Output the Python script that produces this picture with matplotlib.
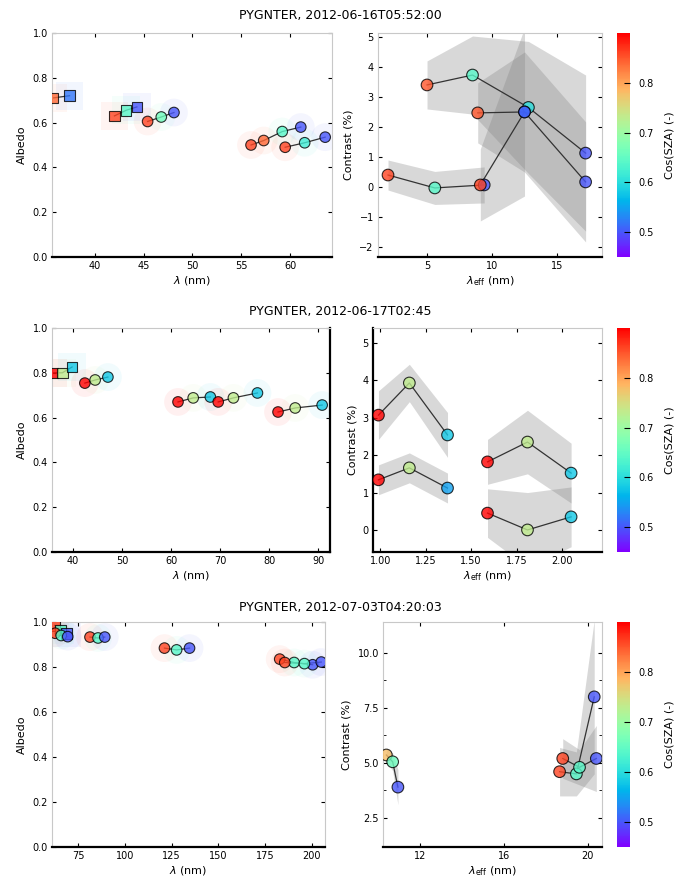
import matplotlib
matplotlib.use('Agg')
import matplotlib.pyplot as plt
from matplotlib import colors as mcolors, cm
import numpy as np

plt.rcParams['font.family'] = ['DejaVu Sans']

W, H = 681, 885
fig = plt.figure(figsize=(6.81, 8.85), dpi=100)

def box(x0, y0, x1, y1):
    return [x0 / W, 1 - y1 / H, (x1 - x0) / W, (y1 - y0) / H]

titles = ["PYGNTER, 2012-06-16T05:52:00", "PYGNTER, 2012-06-17T02:45", "PYGNTER, 2012-07-03T04:20:03"]

# ---------------- data ----------------
# Row 1, left (albedo)
r1L_x = [[35.7, 37.4], [42.0, 43.2, 44.3], [45.4, 46.8, 48.1], [56.0, 57.3, 59.2, 61.1], [59.5, 61.5, 63.6]]
r1L_y = [[0.71, 0.72], [0.63, 0.655, 0.67], [0.605, 0.625, 0.645], [0.50, 0.52, 0.56, 0.58], [0.49, 0.51, 0.535]]
r1L_c = [[0.84, 0.52], [0.86, 0.64, 0.50], [0.86, 0.66, 0.50], [0.86, 0.84, 0.64, 0.50], [0.86, 0.62, 0.50]]
r1L_xticks = [40, 45, 50, 55, 60]

# Row 1, right
r1R_x = [[5.0, 8.5, 12.8, 17.2], [8.9, 12.5, 17.2], [2.0, 5.6, 9.4], [9.1, 12.5]]
r1R_y = [[3.4, 3.73, 2.65, 1.13], [2.47, 2.5, 0.17], [0.4, -0.03, 0.07], [0.07, 2.5]]
r1R_e = [[0.8, 1.3, 2.2, 2.6], [1.0, 2.0, 2.0], [0.5, 0.55, 0.6], [1.2, 2.8]]
r1R_c = [[0.85, 0.64, 0.60, 0.50], [0.85, 0.55, 0.50], [0.86, 0.64, 0.50], [0.86, 0.50]]
r1R_xticks = [5, 10, 15]
r1R_yticks = [-2, -1, 0, 1, 2, 3, 4, 5]

# Row 2, left
r2L_x = [[35.9, 37.8, 39.8], [42.4, 44.5, 47.1], [61.4, 64.5, 68.0], [69.6, 72.7, 77.6], [81.8, 85.3, 90.8]]
r2L_y = [[0.80, 0.80, 0.826], [0.754, 0.768, 0.781], [0.67, 0.688, 0.692], [0.67, 0.688, 0.71], [0.625, 0.643, 0.656]]
r2L_c = [[0.90, 0.73, 0.58]] * 5
r2L_xticks = [40, 50, 60, 70, 80, 90]

# Row 2, right
r2R_x = [[0.99, 1.16, 1.37], [0.99, 1.16, 1.37], [1.59, 1.81, 2.05], [1.59, 1.81, 2.05]]
r2R_y = [[3.07, 3.93, 2.54], [1.34, 1.66, 1.12], [1.82, 2.35, 1.52], [0.45, 0.0, 0.35]]
r2R_e = [[0.65, 0.5, 0.6], [0.4, 0.4, 0.4], [0.6, 0.85, 0.8], [0.65, 1.0, 0.8]]
r2R_c = [[0.90, 0.73, 0.58], [0.90, 0.73, 0.55], [0.90, 0.73, 0.58], [0.90, 0.73, 0.58]]
r2R_xticks = [1.00, 1.25, 1.50, 1.75, 2.00]
r2R_yticks = [0, 1, 2, 3, 4, 5]

# Row 3, left
r3L_x = [[62.5, 65.5, 69.0], [62.8, 66.0, 69.5], [81.4, 85.7, 89.3], [121.2, 127.7, 134.6], [182.8, 190.5, 200.4], [185.5, 196.0, 205.0]]
r3L_y = [[0.985, 0.965, 0.95], [0.95, 0.94, 0.935], [0.933, 0.929, 0.933], [0.884, 0.876, 0.884], [0.835, 0.82, 0.81], [0.82, 0.815, 0.822]]
r3L_c = [[0.86, 0.64, 0.50]] * 6
r3L_xticks = [75, 100, 125, 150, 175, 200]

# Row 3, right
r3R_x = [[10.4, 10.7, 10.95], [18.65, 19.45, 20.3], [18.8, 19.6, 20.4]]
r3R_y = [[5.36, 5.05, 3.9], [4.6, 4.5, 8.0], [5.2, 4.8, 5.2]]
r3R_e = [[0.3, 0.4, 0.8], [1.1, 1.0, 3.5], [0.9, 0.8, 1.5]]
r3R_c = [[0.78, 0.66, 0.50], [0.86, 0.64, 0.50], [0.86, 0.64, 0.50]]
r3R_xticks = [12, 16, 20]
r3R_yticks = [2.5, 5.0, 7.5, 10.0]

albedo_ticks = [0.0, 0.2, 0.4, 0.6, 0.8, 1.0]
cbar_ticks = [0.5, 0.6, 0.7, 0.8]

# ---------------- style ----------------
cmap = plt.get_cmap('rainbow')
norm = mcolors.Normalize(vmin=0.45, vmax=0.9)
TICK_FS = 7
LAB_FS = 8

def style_axes(ax, dark=('bottom',)):
    for s in ['top', 'right', 'left', 'bottom']:
        ax.spines[s].set_color('#c8c8c8')
        ax.spines[s].set_linewidth(0.8)
    for s in dark:
        ax.spines[s].set_color('black')
        ax.spines[s].set_linewidth(1.6)
    ax.tick_params(direction='in', top=True, right=True, labelsize=TICK_FS,
                   length=3, width=0.8, pad=3)
    ax.tick_params(which='minor', direction='in', top=True, right=True, length=2)

def draw_left(ax, xs, ys, cs, markers):
    for x, y, c, m in zip(xs, ys, cs, markers):
        ax.plot(x, y, color='#333333', lw=0.9, zorder=2)
        ax.scatter(x, y, c=c, cmap=cmap, norm=norm, marker=m, s=400,
                   linewidths=0, zorder=1, alpha=0.06)
        ax.scatter(x, y, c=c, cmap=cmap, norm=norm, marker=m, s=58,
                   edgecolors='black', linewidths=0.8, zorder=3, alpha=0.8)

def draw_right(ax, xs, ys, es, cs, markers):
    for x, y, e, c, m in zip(xs, ys, es, cs, markers):
        x = np.array(x); y = np.array(y); e = np.array(e)
        ax.fill_between(x, y - e, y + e, color='gray', alpha=0.3, lw=0, zorder=1)
        ax.plot(x, y, color='#333333', lw=0.9, zorder=2)
        ax.scatter(x, y, c=c, cmap=cmap, norm=norm, marker=m, s=70,
                   edgecolors='black', linewidths=0.8, zorder=3, alpha=0.8)

def add_cbar(pos):
    cax = fig.add_axes(pos)
    cb = fig.colorbar(cm.ScalarMappable(norm=norm, cmap=cmap), cax=cax, ticks=cbar_ticks)
    cb.outline.set_visible(False)
    cax.tick_params(direction='in', labelsize=TICK_FS, length=4, width=0.8, pad=6)
    cb.set_label('Cos(SZA) (-)', fontsize=LAB_FS, labelpad=8)
    return cb

rows_y = [(33, 257), (328, 552), (622, 847)]
title_y = [15, 312, 608]

# ---------------- Row 1 ----------------
y0, y1 = rows_y[0]
axL = fig.add_axes(box(52, y0, 332, y1))
draw_left(axL, r1L_x, r1L_y, r1L_c, ['s', 's', 'o', 'o', 'o'])
axL.set_xlim(35.6, 64.3); axL.set_ylim(0, 1.0)
axL.set_xticks(r1L_xticks); axL.set_yticks(albedo_ticks)
style_axes(axL)
axL.set_xlabel(r'$\lambda$ (nm)', fontsize=LAB_FS, labelpad=2)
axL.set_ylabel('Albedo', fontsize=LAB_FS)

axR = fig.add_axes(box(378, y0, 602, y1))
draw_right(axR, r1R_x, r1R_y, r1R_e, r1R_c, ['o', 'o', 'o', 'o'])
axR.set_xlim(1.23, 18.46); axR.set_ylim(-2.33, 5.13)
axR.set_xticks(r1R_xticks); axR.set_yticks(r1R_yticks)
style_axes(axR)
axR.set_xlabel(r'$\lambda_{\rm eff}$ (nm)', fontsize=LAB_FS, labelpad=2)
axR.set_ylabel('Contrast (%)', fontsize=LAB_FS)
add_cbar(box(617, y0, 630, y1))

# ---------------- Row 2 ----------------
y0, y1 = rows_y[1]
axL = fig.add_axes(box(52, y0, 330, y1))
draw_left(axL, r2L_x, r2L_y, r2L_c, ['s', 'o', 'o', 'o', 'o'])
axL.set_xlim(35.7, 92.4); axL.set_ylim(0, 1.0)
axL.set_xticks(r2L_xticks); axL.set_yticks(albedo_ticks)
style_axes(axL, dark=('bottom', 'right'))
axL.set_xlabel(r'$\lambda$ (nm)', fontsize=LAB_FS, labelpad=2)
axL.set_ylabel('Albedo', fontsize=LAB_FS)

axR = fig.add_axes(box(373, y0, 602, y1))
draw_right(axR, r2R_x, r2R_y, r2R_e, r2R_c, ['o', 'o', 'o', 'o'])
axR.set_xlim(0.96, 2.22); axR.set_ylim(-0.59, 5.4)
axR.set_xticks(r2R_xticks); axR.set_yticks(r2R_yticks)
style_axes(axR, dark=('bottom', 'left'))
axR.set_xlabel(r'$\lambda_{\rm eff}$ (nm)', fontsize=LAB_FS, labelpad=2)
axR.set_ylabel('Contrast (%)', fontsize=LAB_FS)
add_cbar(box(617, y0, 630, y1))

# ---------------- Row 3 ----------------
y0, y1 = rows_y[2]
axL = fig.add_axes(box(52, y0, 325, y1))
draw_left(axL, r3L_x, r3L_y, r3L_c, ['s', 'o', 'o', 'o', 'o', 'o'])
axL.set_xlim(61.1, 207.0); axL.set_ylim(0, 1.0)
axL.set_xticks(r3L_xticks); axL.set_yticks(albedo_ticks)
style_axes(axL)
axL.set_xlabel(r'$\lambda$ (nm)', fontsize=LAB_FS, labelpad=2)
axL.set_ylabel('Albedo', fontsize=LAB_FS)

axR = fig.add_axes(box(383, y0, 602, y1))
draw_right(axR, r3R_x, r3R_y, r3R_e, r3R_c, ['o', 'o', 'o'])
axR.set_xlim(10.24, 20.67); axR.set_ylim(1.18, 11.4)
axR.set_xticks(r3R_xticks); axR.set_yticks(r3R_yticks)
axR.set_yticks([3.75, 6.25, 8.75], minor=True)
style_axes(axR)
axR.set_xlabel(r'$\lambda_{\rm eff}$ (nm)', fontsize=LAB_FS, labelpad=2)
axR.set_ylabel('Contrast (%)', fontsize=LAB_FS)
add_cbar(box(617, y0, 630, y1))

for t, ty in zip(titles, title_y):
    fig.text(0.5, 1 - ty / H, t, ha='center', va='center', fontsize=9)

fig.savefig('out.png', dpi=100)
